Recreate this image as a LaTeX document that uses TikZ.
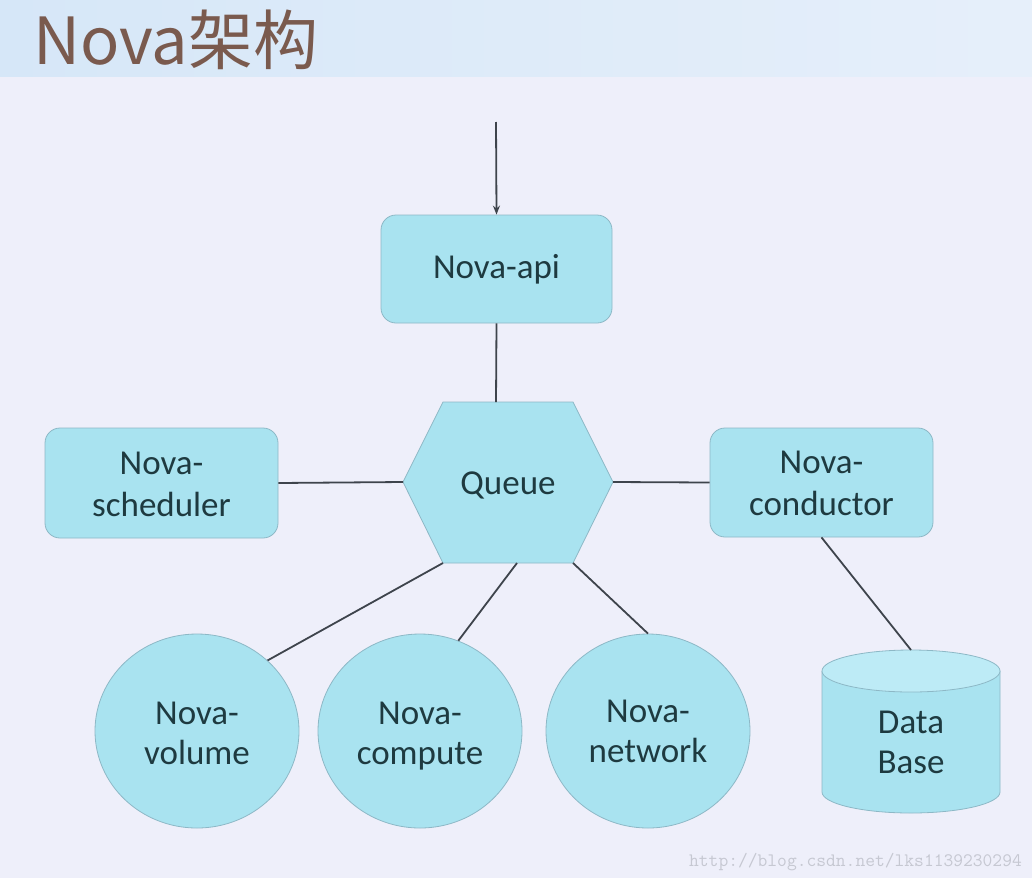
\documentclass[tikz,border=0pt]{standalone}
\usepackage{fontspec}
\setmainfont{Carlito}
\newfontfamily\cjkfont{Noto Sans CJK SC}
\usetikzlibrary{arrows.meta,shapes.geometric}
\definecolor{bg}{HTML}{EEEFFA}
\definecolor{bandL}{HTML}{D6E7F8}
\definecolor{bandR}{HTML}{E6EFFA}
\definecolor{boxfill}{HTML}{A9E3F0}
\definecolor{boxline}{HTML}{8DB8C6}
\definecolor{toplight}{HTML}{BDEBF6}
\definecolor{wire}{HTML}{3E444C}
\definecolor{txt}{HTML}{1E3A40}
\definecolor{titlec}{HTML}{7A5A4E}
\definecolor{wm}{HTML}{C6C8D2}
\begin{document}
\begin{tikzpicture}[x=1pt,y=-1pt,
  boxtext/.style={text=txt,font=\fontsize{35}{40}\selectfont,align=center},
  rbox/.style={boxtext,rectangle,rounded corners=15pt,fill=boxfill,draw=boxline,line width=0.8pt,inner sep=0pt},
  circ/.style={boxtext,ellipse,fill=boxfill,draw=boxline,line width=0.8pt,inner sep=0pt,minimum width=204pt,minimum height=194pt},
  wireline/.style={draw=wire,line width=1.8pt}]
\useasboundingbox (0,0) rectangle (1032,878);
\fill[bg] (0,0) rectangle (1032,878);
\shade[left color=bandL,right color=bandR] (0,0) rectangle (1032,76);
\node[anchor=base west,inner sep=0pt,text=titlec,font=\cjkfont\fontsize{65}{65}\selectfont] (title) at (33,64) {Nova架构};

% coordinates
\coordinate (src) at (496,122);
\coordinate (qt) at (496,402);
\coordinate (ql) at (403,482);
\coordinate (qr) at (613,482);
\coordinate (qtl) at (443,402);
\coordinate (qtr) at (573,402);
\coordinate (qbl) at (443,563);
\coordinate (qbr) at (573,563);
\coordinate (qbm) at (517,563);
\coordinate (dbtop) at (911,650);

\node[rbox,minimum width=231pt,minimum height=108pt] (api) at (496.5,269) {Nova-api};
\node[rbox,minimum width=233pt,minimum height=110pt] (sch) at (161.5,483) {};
\node[rbox,minimum width=223pt,minimum height=109pt] (con) at (821.5,482.5) {};
\node[boxtext] (schtext) at (161.5,487) {Nova-\strut\\[2pt]scheduler\strut};
\node[boxtext] (context) at (821.5,486) {Nova-\strut\\[2pt]conductor\strut};
\node[circ] (vol) at (197,731) {};
\node[circ] (com) at (420,731) {};
\node[circ] (net) at (648,731) {};
\node[boxtext] (voltext) at (197,736) {Nova-\strut\\volume\strut};
\node[boxtext] (comtext) at (420,736) {Nova-\strut\\compute\strut};
\node[boxtext] (nettext) at (648,734) {Nova-\strut\\network\strut};

% hexagon
\filldraw[fill=boxfill,draw=boxline,line width=0.8pt] (ql) -- (qtl) -- (qtr) -- (qr) -- (qbr) -- (qbl) -- cycle;
\node[boxtext] (queue) at (508,485) {Queue};

% cylinder
\path[fill=boxfill,draw=boxline,line width=0.8pt] (822,671) -- (822,792) arc[start angle=180,end angle=360,x radius=89pt,y radius=21pt] -- (1000,671);
\draw[fill=toplight,draw=boxline,line width=0.8pt] (911,671) ellipse[x radius=89pt,y radius=21pt];
\node[boxtext] (db) at (911,745) {Data\strut\\Base\strut};

% connectors
\draw[wireline,-{Stealth[length=9pt,width=7pt]}] (src) -- (api.north);
\draw[wireline] (api.south) -- (qt);
\draw[wireline] (sch.east) -- (ql);
\draw[wireline] (qr) -- (con.west);
\draw[wireline] (qbl) -- (vol.45);
\draw[wireline] (qbm) -- (com.67);
\draw[wireline] (qbr) -- (net.north);
\draw[wireline] (con.south) -- (dbtop);

\node[anchor=base east,inner sep=0pt,text=wm,font=\ttfamily\fontsize{19}{19}\selectfont] (wmark) at (1022,866) {http://blog.csdn.net/lks1139230294};
\end{tikzpicture}
\end{document}
